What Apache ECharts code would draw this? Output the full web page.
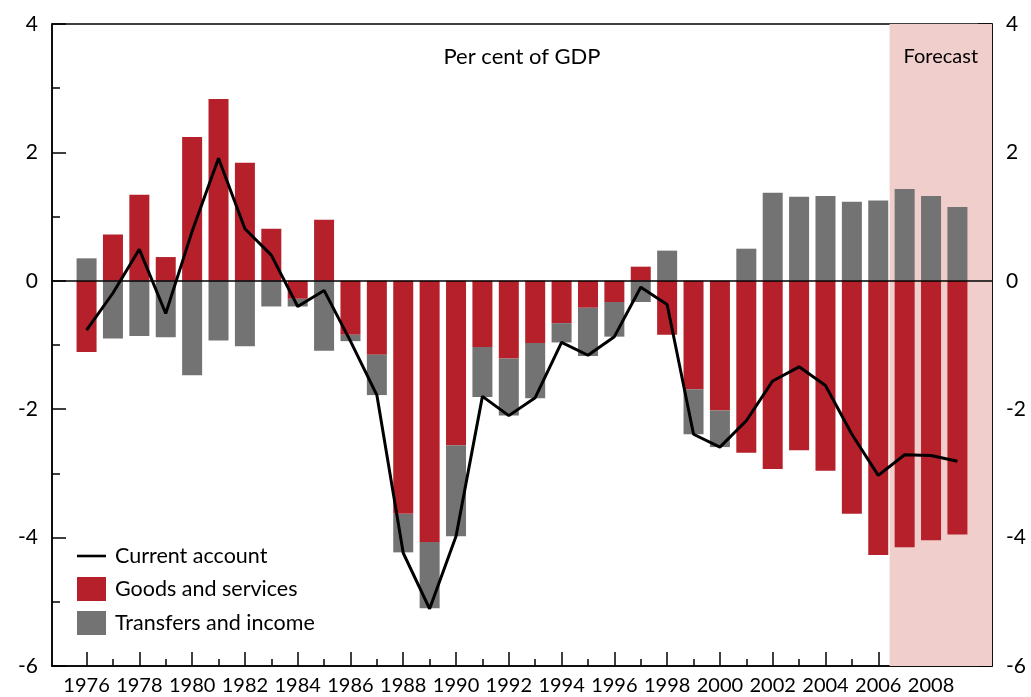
<!DOCTYPE html>
<html><head><meta charset="utf-8">
<script src="https://cdn.jsdelivr.net/npm/echarts@6/dist/echarts.min.js"></script>
<style>html,body{margin:0;padding:0;background:#fff}#c{width:1031px;height:697px}</style>
</head><body><div id="c"></div>
<script>
const years = [1976,1977,1978,1979,1980,1981,1982,1983,1984,1985,1986,1987,1988,1989,1990,1991,1992,1993,1994,1995,1996,1997,1998,1999,2000,2001,2002,2003,2004,2005,2006,2007,2008,2009];
const goodsAndServices = [-1.11,0.72,1.34,0.37,2.24,2.83,1.84,0.81,-0.28,0.95,
  -0.84,-1.15,-3.63,-4.07,-2.56,-1.03,-1.21,-0.97,-0.66,-0.42,
  -0.33,0.22,-0.84,-1.69,-2.02,-2.68,-2.93,-2.64,-2.96,-3.63,
  -4.27,-4.15,-4.04,-3.95];
const transfersAndIncome = [0.35,-0.90,-0.86,-0.88,-1.47,-0.93,-1.02,-0.40,-0.12,-1.09,
  -0.10,-0.63,-0.60,-1.03,-1.42,-0.78,-0.89,-0.86,-0.30,-0.75,
  -0.54,-0.33,0.47,-0.70,-0.57,0.50,1.37,1.31,1.32,1.23,
  1.25,1.43,1.32,1.15];
const currentAccount = [-0.77,-0.19,0.49,-0.51,0.77,1.91,0.81,0.40,-0.40,-0.15,
  -0.94,-1.78,-4.24,-5.11,-3.98,-1.80,-2.10,-1.82,-0.96,-1.16,
  -0.87,-0.10,-0.37,-2.39,-2.59,-2.18,-1.56,-1.34,-1.63,-2.39,
  -3.03,-2.71,-2.72,-2.81];
const yearLabels = [1976,1978,1980,1982,1984,1986,1988,1990,1992,1994,1996,1998,2000,2002,2004,2006,2008];
const minorYears = [1977,1979,1981,1983,1985,1987,1989,1991,1993,1995,1997,1999,2001,2003,2005,2007,2009];
const forecastStart = 2006.43;
const xMin = 1974.69, xMax = 2010.31;

const RED = '#B5202A', GRAY = '#737373', PINK = '#F0CECB';
const FONT = 'Lato';
const axisLineStyle = {color:'#000', width:1.5};

function yAxisDef(pos){
  return {
    type:'value', position:pos, min:-6, max:4, interval:2,
    axisLine:{show:true, lineStyle:axisLineStyle},
    axisTick:{show:true, inside:true, length:14, lineStyle:axisLineStyle},
    minorTick:{show:true, splitNumber:2, length:8, lineStyle:axisLineStyle},
    splitLine:{show:false}, minorSplitLine:{show:false},
    axisLabel:{fontSize:21, color:'#000', fontFamily:FONT, margin:14}
  };
}

// value first, year second, so the value dimension is the stacked one
const goodsData = years.map((y,i)=>[goodsAndServices[i], y]);
const transfersData = years.map((y,i)=>[transfersAndIncome[i], y]);

const chart = echarts.init(document.getElementById('c'), null, {renderer:'canvas'});
chart.setOption({
  animation:false,
  textStyle:{fontFamily:FONT},
  grid:{left:52, right:39, top:24, bottom:31, show:true, borderColor:'#000', borderWidth:1.5, backgroundColor:'transparent'},
  title:{text:'Per cent of GDP', left:517, top:41, textAlign:'center',
    textStyle:{fontFamily:FONT, fontSize:22, fontWeight:'normal', color:'#000'}},
  legend:{left:72, top:540, orient:'vertical', itemWidth:29, itemHeight:24, itemGap:10, selectedMode:false,
    textStyle:{fontSize:21.5, color:'#000', fontFamily:FONT, padding:[2,0,0,4]},
    data:[{name:'Current account', icon:'path://M0,0H29V2.6H0Z'},
          {name:'Goods and services', icon:'rect'},
          {name:'Transfers and income', icon:'rect'}]},
  xAxis:[
    {type:'value', min:xMin, max:xMax, position:'bottom',
     axisLine:{show:true, onZero:false, lineStyle:axisLineStyle},
     axisTick:{show:true, inside:true, length:14, customValues:yearLabels, lineStyle:axisLineStyle},
     axisLabel:{customValues:yearLabels, formatter:v=>String(v), fontSize:20, color:'#000', fontFamily:FONT, margin:10},
     splitLine:{show:false}},
    {type:'value', min:xMin, max:xMax, position:'bottom',
     axisLine:{show:false, onZero:false},
     axisTick:{show:true, inside:true, length:7, customValues:minorYears, lineStyle:axisLineStyle},
     axisLabel:{show:false}, splitLine:{show:false}}
  ],
  yAxis:[yAxisDef('left'), yAxisDef('right')],
  series:[
    {name:'forecast', type:'line', data:[], z:0, silent:true,
     markArea:{silent:true, itemStyle:{color:PINK},
       label:{show:true, position:'insideTop', distance:23, fontSize:20, color:'#000', fontFamily:FONT},
       data:[[{name:'Forecast', xAxis:forecastStart},{xAxis:xMax}]]}},
    {name:'Goods and services', type:'bar', stack:'ca', barWidth:20, z:2,
     encode:{x:1, y:0}, data:goodsData, itemStyle:{color:RED}},
    {name:'Transfers and income', type:'bar', stack:'ca', barWidth:20, z:2,
     encode:{x:1, y:0}, data:transfersData, itemStyle:{color:GRAY}},
    {name:'Current account', type:'line', z:4, color:'#000', symbol:'none', showSymbol:false,
     data:years.map((y,i)=>[y,currentAccount[i]]),
     itemStyle:{color:'#000'}, lineStyle:{color:'#000', width:3},
     markLine:{silent:true, symbol:'none', label:{show:false},
       lineStyle:{color:'#000', width:1.5, type:'solid'}, data:[{yAxis:0}]}}
  ]
});
</script></body></html>
